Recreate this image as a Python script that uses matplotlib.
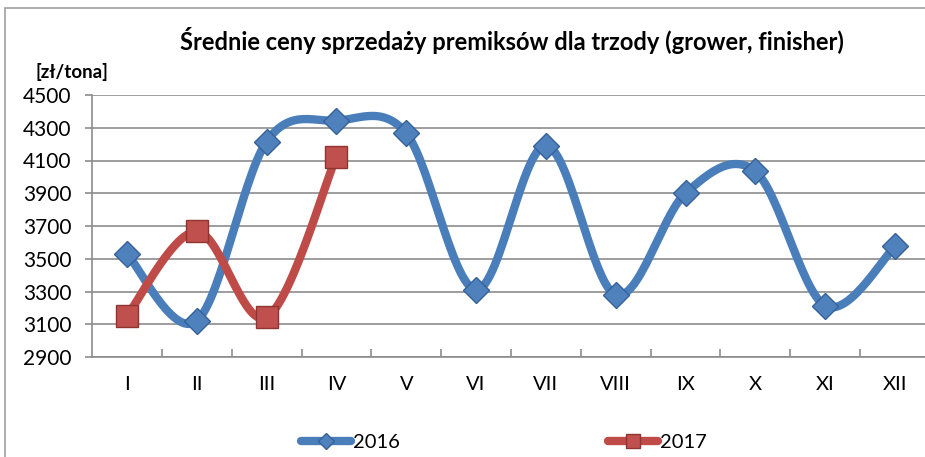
import numpy as np
import matplotlib.pyplot as plt
from matplotlib.patches import Rectangle

months = ['I', 'II', 'III', 'IV', 'V', 'VI', 'VII', 'VIII', 'IX', 'X', 'XI', 'XII']
ceny_2016 = [3530, 3120, 4215, 4343, 4266, 3311, 4191, 3280, 3900, 4033, 3213, 3575]
ceny_2017 = [3152, 3667, 3142, 4124]
y_ticks = list(range(2900, 4501, 200))

plt.rcParams['font.family'] = ['Lato', 'DejaVu Sans']


def smooth(x, y, n=30):
    # Excel-like smoothed line: cubic bezier with catmull-rom control points
    pts = np.column_stack([x, y]).astype(float)
    out = [pts[0]]
    for i in range(len(pts) - 1):
        p0 = pts[i - 1] if i > 0 else pts[i]
        p1, p2 = pts[i], pts[i + 1]
        p3 = pts[i + 2] if i + 2 < len(pts) else pts[i + 1]
        c1 = p1 + (p2 - p0) / 6
        c2 = p2 - (p3 - p1) / 6
        t = np.linspace(0, 1, n + 1)[1:, None]
        seg = (1 - t) ** 3 * p1 + 3 * (1 - t) ** 2 * t * c1 + 3 * (1 - t) * t ** 2 * c2 + t ** 3 * p2
        out.extend(seg)
    return np.array(out)


fig = plt.figure(figsize=(9.25, 4.57), dpi=100)
ax = fig.add_axes([92 / 925, 100 / 457, 838 / 925, 262 / 457])

n = 30
grid_c = '#8c8c8c'
for vals, col, mcol, medge, mk, ms, lab in [
        (ceny_2016, '#4A7EBB', '#4F81BD', '#35619a', 'D', 13, '2016'),
        (ceny_2017, '#BE4B48', '#C0504D', '#8e3431', 's', 16, '2017')]:
    xs = np.arange(len(vals))
    curve = smooth(xs, vals, n)
    ax.plot(curve[:, 0], curve[:, 1], color=col, lw=6, solid_capstyle='round',
            marker=mk, markersize=ms, markerfacecolor=mcol, markeredgecolor=medge,
            markeredgewidth=1, markevery=[i * n for i in range(len(vals))],
            label=lab, zorder=3)

ax.set_xlim(-0.5, 11.5)
ax.set_ylim(2900, 4500)
ax.set_yticks(y_ticks)
ax.set_xticks(range(len(months)))
ax.set_xticklabels(months)
ax.set_xticks(np.arange(0.5, 11, 1), minor=True)
ax.yaxis.grid(True, color=grid_c, lw=1.2)
ax.set_axisbelow(True)
for s in ['top', 'right']:
    ax.spines[s].set_visible(False)
for s in ['left', 'bottom']:
    ax.spines[s].set_color(grid_c)
    ax.spines[s].set_linewidth(1.2)
ax.tick_params(axis='y', direction='out', length=5, color=grid_c, width=1.2,
               labelsize=15, pad=10)
ax.tick_params(axis='x', which='major', length=0, labelsize=14.5, pad=14)
ax.tick_params(axis='x', which='minor', direction='in', length=6, color=grid_c, width=1.2)

fig.text(0.553, 0.912, 'Średnie ceny sprzedaży premiksów dla trzody (grower, finisher)',
         ha='center', va='center', fontsize=17, fontweight='bold')
fig.text(72 / 925, 1 - 72 / 457, '[zł/tona]', ha='center', va='center',
         fontsize=13.5, fontweight='bold')

fig.legend(loc='center', bbox_to_anchor=(504 / 925, 15 / 457), ncol=2, frameon=False,
           fontsize=14.5, handlelength=2.5, handletextpad=0.1, columnspacing=10.3,
           numpoints=1, markerscale=0.65)

fig.add_artist(Rectangle((4.5 / 925, -0.1), 2, 1.1 - 8 / 457, transform=fig.transFigure,
                         fill=False, edgecolor='#a0a0a0', lw=1.2))

fig.savefig('out.png', dpi=100)
